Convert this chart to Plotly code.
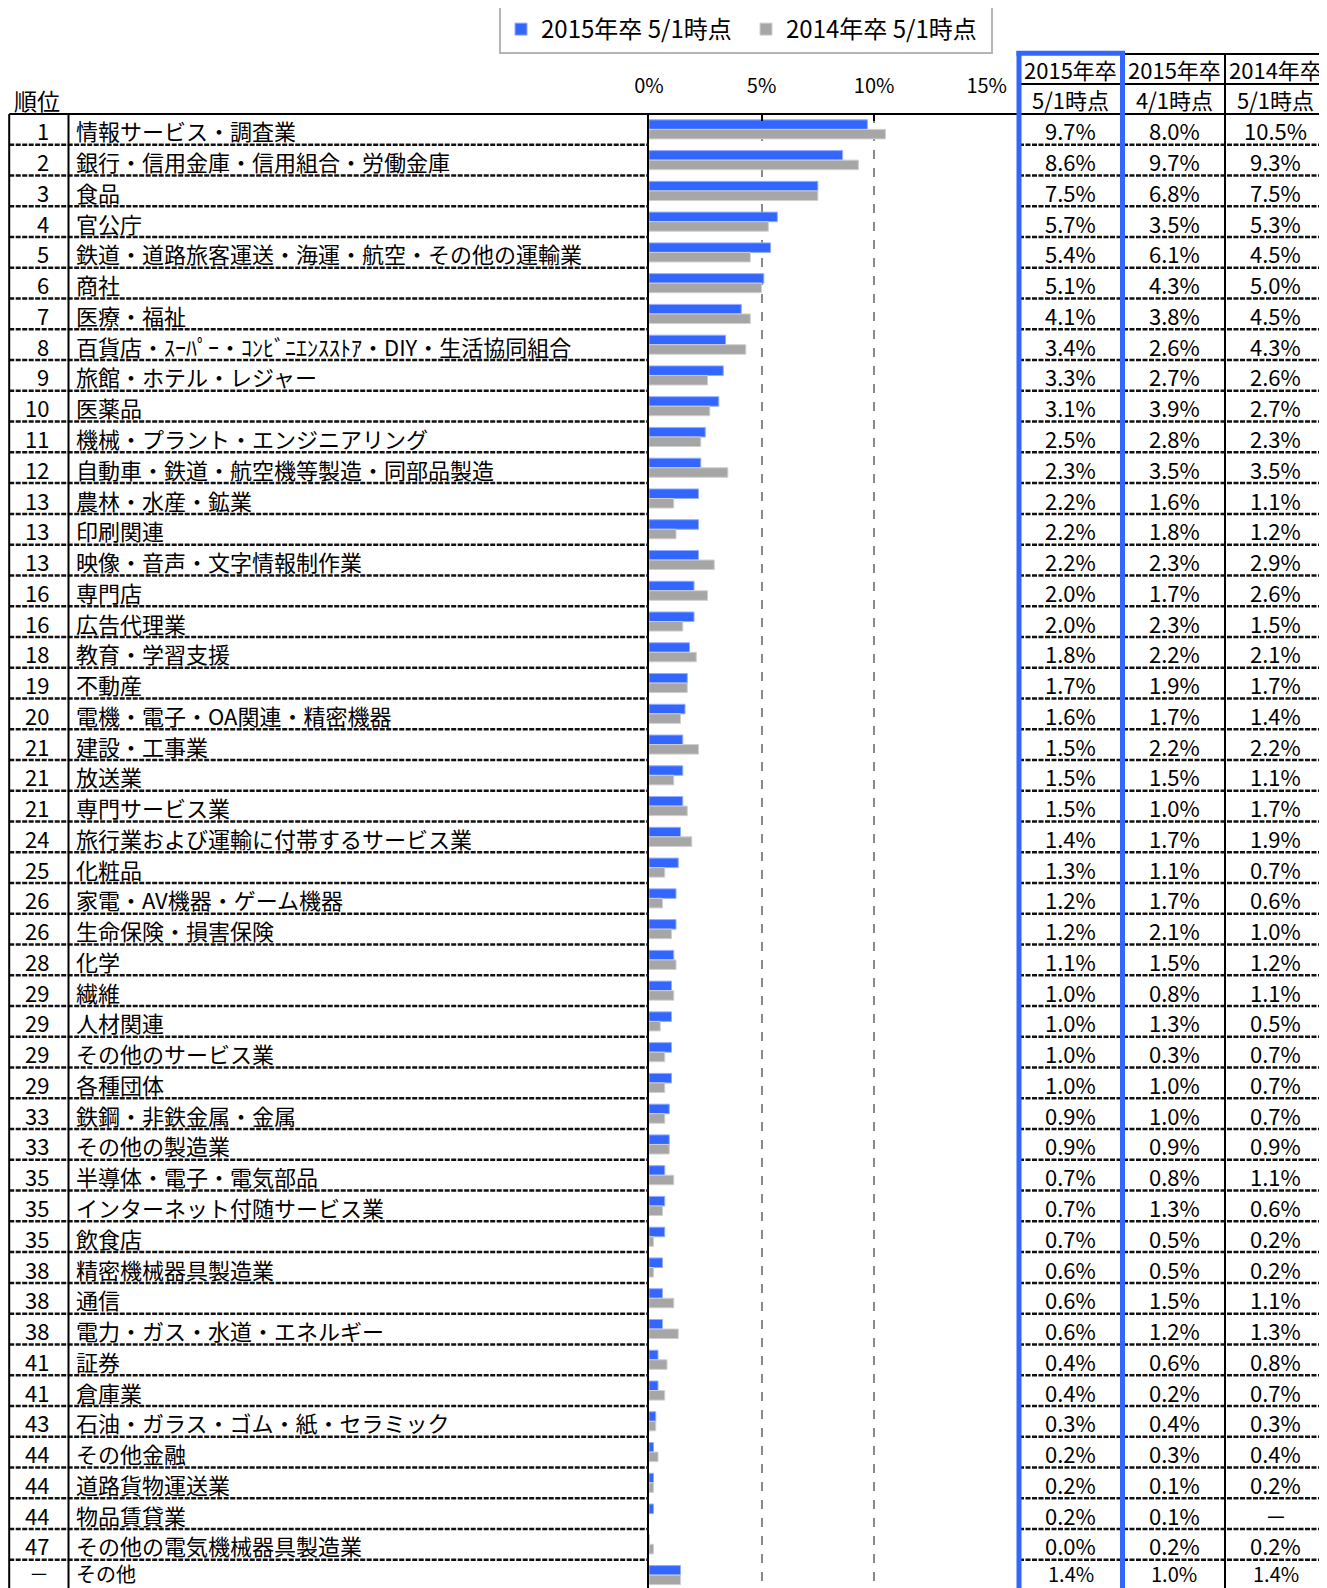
import plotly.graph_objects as go

# ---------------- data ----------------
ranks = ["1", "2", "3", "4", "5", "6", "7", "8", "9", "10", "11", "12", "13", "13", "13", "16",
         "16", "18", "19", "20", "21", "21", "21", "24", "25", "26", "26", "28", "29", "29", "29",
         "29", "33", "33", "35", "35", "35", "38", "38", "38", "41", "41", "43", "44", "44", "44",
         "47", "－"]
industries = [
    "情報サービス・調査業", "銀行・信用金庫・信用組合・労働金庫", "食品", "官公庁",
    "鉄道・道路旅客運送・海運・航空・その他の運輸業", "商社", "医療・福祉",
    "百貨店・ｽｰﾊﾟｰ・ｺﾝﾋﾞﾆｴﾝｽｽﾄｱ・DIY・生活協同組合", "旅館・ホテル・レジャー", "医薬品",
    "機械・プラント・エンジニアリング", "自動車・鉄道・航空機等製造・同部品製造", "農林・水産・鉱業",
    "印刷関連", "映像・音声・文字情報制作業", "専門店", "広告代理業", "教育・学習支援", "不動産",
    "電機・電子・OA関連・精密機器", "建設・工事業", "放送業", "専門サービス業",
    "旅行業および運輸に付帯するサービス業", "化粧品", "家電・AV機器・ゲーム機器", "生命保険・損害保険",
    "化学", "繊維", "人材関連", "その他のサービス業", "各種団体", "鉄鋼・非鉄金属・金属", "その他の製造業",
    "半導体・電子・電気部品", "インターネット付随サービス業", "飲食店", "精密機械器具製造業", "通信",
    "電力・ガス・水道・エネルギー", "証券", "倉庫業", "石油・ガラス・ゴム・紙・セラミック", "その他金融",
    "道路貨物運送業", "物品賃貸業", "その他の電気機械器具製造業", "その他"]
v2015_0501 = [9.7, 8.6, 7.5, 5.7, 5.4, 5.1, 4.1, 3.4, 3.3, 3.1, 2.5, 2.3, 2.2, 2.2, 2.2, 2.0,
              2.0, 1.8, 1.7, 1.6, 1.5, 1.5, 1.5, 1.4, 1.3, 1.2, 1.2, 1.1, 1.0, 1.0, 1.0, 1.0,
              0.9, 0.9, 0.7, 0.7, 0.7, 0.6, 0.6, 0.6, 0.4, 0.4, 0.3, 0.2, 0.2, 0.2, 0.0, 1.4]
v2015_0401 = [8.0, 9.7, 6.8, 3.5, 6.1, 4.3, 3.8, 2.6, 2.7, 3.9, 2.8, 3.5, 1.6, 1.8, 2.3, 1.7,
              2.3, 2.2, 1.9, 1.7, 2.2, 1.5, 1.0, 1.7, 1.1, 1.7, 2.1, 1.5, 0.8, 1.3, 0.3, 1.0,
              1.0, 0.9, 0.8, 1.3, 0.5, 0.5, 1.5, 1.2, 0.6, 0.2, 0.4, 0.3, 0.1, 0.1, 0.2, 1.0]
v2014_0501 = [10.5, 9.3, 7.5, 5.3, 4.5, 5.0, 4.5, 4.3, 2.6, 2.7, 2.3, 3.5, 1.1, 1.2, 2.9, 2.6,
              1.5, 2.1, 1.7, 1.4, 2.2, 1.1, 1.7, 1.9, 0.7, 0.6, 1.0, 1.2, 1.1, 0.5, 0.7, 0.7,
              0.7, 0.9, 1.1, 0.6, 0.2, 0.2, 1.1, 1.3, 0.8, 0.7, 0.3, 0.4, 0.2, None, 0.2, 1.4]
series_names = ["2015年卒 5/1時点", "2014年卒 5/1時点"]
col_head_top = ["2015年卒", "2015年卒", "2014年卒"]
col_head_bottom = ["5/1時点", "4/1時点", "5/1時点"]
x_ticks = [0, 5, 10, 15]
x_tick_labels = ["0%", "5%", "10%", "15%"]

# ---------------- layout constants ----------------
W, H = 1327, 1588
OFF = 8  # page body margin offset of the plot div
FONT = "Noto Sans CJK JP"
BLUE = "#3366FF"
GRAY = "#A6A6A6"


def px(x):
    return (x - OFF) / W


def py(y):
    return 1 - (y - OFF) / H


n = len(industries)
rows = list(range(n))
top_y = 114.0
row_h = 30.76
units = (H - (top_y - OFF)) / row_h

fig = go.Figure()
fig.add_trace(go.Bar(y=rows, x=v2015_0501, orientation="h", name=series_names[0],
                     marker=dict(color=BLUE, line=dict(color="#94adff", width=1))))
fig.add_trace(go.Bar(y=rows, x=v2014_0501, orientation="h", name=series_names[1],
                     marker=dict(color=GRAY, line=dict(color="#cfcfcf", width=1))))

shapes = []
annotations = []

LEFT = 9.2
# row separators (left and right tables)
for i in range(n - 1):
    for x0, x1 in [(LEFT, 649), (1019, 1327)]:
        shapes.append(dict(type="line", xref="paper", yref="y", x0=px(x0), x1=px(x1),
                           y0=i + 0.5, y1=i + 0.5,
                           line=dict(color="#111111", width=2.5, dash="5px,1.5px")))

# top horizontal border
shapes.append(dict(type="line", xref="paper", yref="paper", x0=px(LEFT), x1=px(1327),
                   y0=py(top_y), y1=py(top_y), line=dict(color="black", width=2)))
# left table verticals
for xv in [LEFT, 68.5]:
    shapes.append(dict(type="line", xref="paper", yref="paper", x0=px(xv), x1=px(xv),
                       y0=py(top_y), y1=0, line=dict(color="black", width=2)))
# right table header lines
shapes.append(dict(type="line", xref="paper", yref="paper", x0=px(1122), x1=px(1327),
                   y0=py(54), y1=py(54), line=dict(color="black", width=2)))
shapes.append(dict(type="line", xref="paper", yref="paper", x0=px(1019), x1=px(1327),
                   y0=py(84), y1=py(84), line=dict(color="black", width=2)))
for xv in [1225, 1325.5]:
    shapes.append(dict(type="line", xref="paper", yref="paper", x0=px(xv), x1=px(xv),
                       y0=py(54), y1=0, line=dict(color="black", width=2)))
# blue highlight box
for xv in [1019, 1122.5]:
    shapes.append(dict(type="line", xref="paper", yref="paper", x0=px(xv), x1=px(xv),
                       y0=py(51), y1=0, line=dict(color=BLUE, width=5)))
shapes.append(dict(type="line", xref="paper", yref="paper", x0=px(1016.5), x1=px(1125),
                   y0=py(53.3), y1=py(53.3), line=dict(color=BLUE, width=5)))


def shift_for(i):
    # keep the last (partly visible) row's text inside the window
    return 2 if i == n - 1 else -1


def font_for(i):
    return dict(family=FONT, size=20 if i == n - 1 else 22, color="black")


# left table text
for i in rows:
    annotations.append(dict(xref="paper", yref="y", x=px(51), y=i, text=ranks[i], showarrow=False,
                            xanchor="right", yanchor="middle", yshift=shift_for(i),
                            font=font_for(i)))
    annotations.append(dict(xref="paper", yref="y", x=px(74), y=i, text=industries[i],
                            showarrow=False, xanchor="left", yanchor="middle",
                            yshift=shift_for(i), font=font_for(i)))

# right table text
TXT = dict(family=FONT, size=22, color="black")
col_centers = [1070.5, 1174, 1275.5]
cols = [v2015_0501, v2015_0401, v2014_0501]
for c, vals in enumerate(cols):
    for i in rows:
        v = vals[i]
        t = "－" if v is None else f"{v:.1f}%"
        annotations.append(dict(xref="paper", yref="y", x=px(col_centers[c]), y=i, text=t,
                                showarrow=False, xanchor="center", yanchor="middle",
                                yshift=shift_for(i), font=font_for(i)))
    annotations.append(dict(xref="paper", yref="paper", x=px(col_centers[c]), y=py(68.5),
                            text=col_head_top[c], showarrow=False, xanchor="center",
                            yanchor="middle", font=TXT))
    annotations.append(dict(xref="paper", yref="paper", x=px(col_centers[c]), y=py(99),
                            text=col_head_bottom[c], showarrow=False, xanchor="center",
                            yanchor="middle", font=TXT))

annotations.append(dict(xref="paper", yref="paper", x=px(12), y=py(100), text="順位",
                        showarrow=False, xanchor="left", yanchor="middle",
                        font=dict(family=FONT, size=23, color="black")))

fig.update_layout(
    width=W, height=H, autosize=False,
    margin=dict(l=0, r=0, t=0, b=0, pad=0, autoexpand=False),
    paper_bgcolor="white", plot_bgcolor="white",
    barmode="group", bargap=0.38, bargroupgap=0.0,
    font=dict(family=FONT, size=20, color="black"),
    showlegend=True,
    legend=dict(orientation="h", x=px(499), y=py(5), xanchor="left", yanchor="top",
                bordercolor="#b5b5b5", borderwidth=2, bgcolor="white",
                font=dict(family=FONT, size=24, color="black"),
                entrywidth=200, itemwidth=30, traceorder="normal"),
    xaxis=dict(domain=[px(649), px(986.7)], range=[0, 15], side="top",
               tickvals=x_ticks, ticktext=x_tick_labels, ticks="inside", ticklen=7,
               tickwidth=2, tickcolor="black", showgrid=True, gridcolor="#8a8a8a",
               gridwidth=1.5, griddash="dash", zeroline=False, showline=False,
               ticklabelstandoff=16, tickfont=dict(family=FONT, size=20, color="black"),
               automargin=False, fixedrange=True),
    yaxis=dict(domain=[0, py(top_y)], range=[units - 0.5, -0.5], showticklabels=False,
               ticks="", showgrid=False, zeroline=False, showline=True, linecolor="black",
               linewidth=2, automargin=False, fixedrange=True),
    shapes=shapes,
    annotations=annotations,
)

fig.write_html("out.html")
